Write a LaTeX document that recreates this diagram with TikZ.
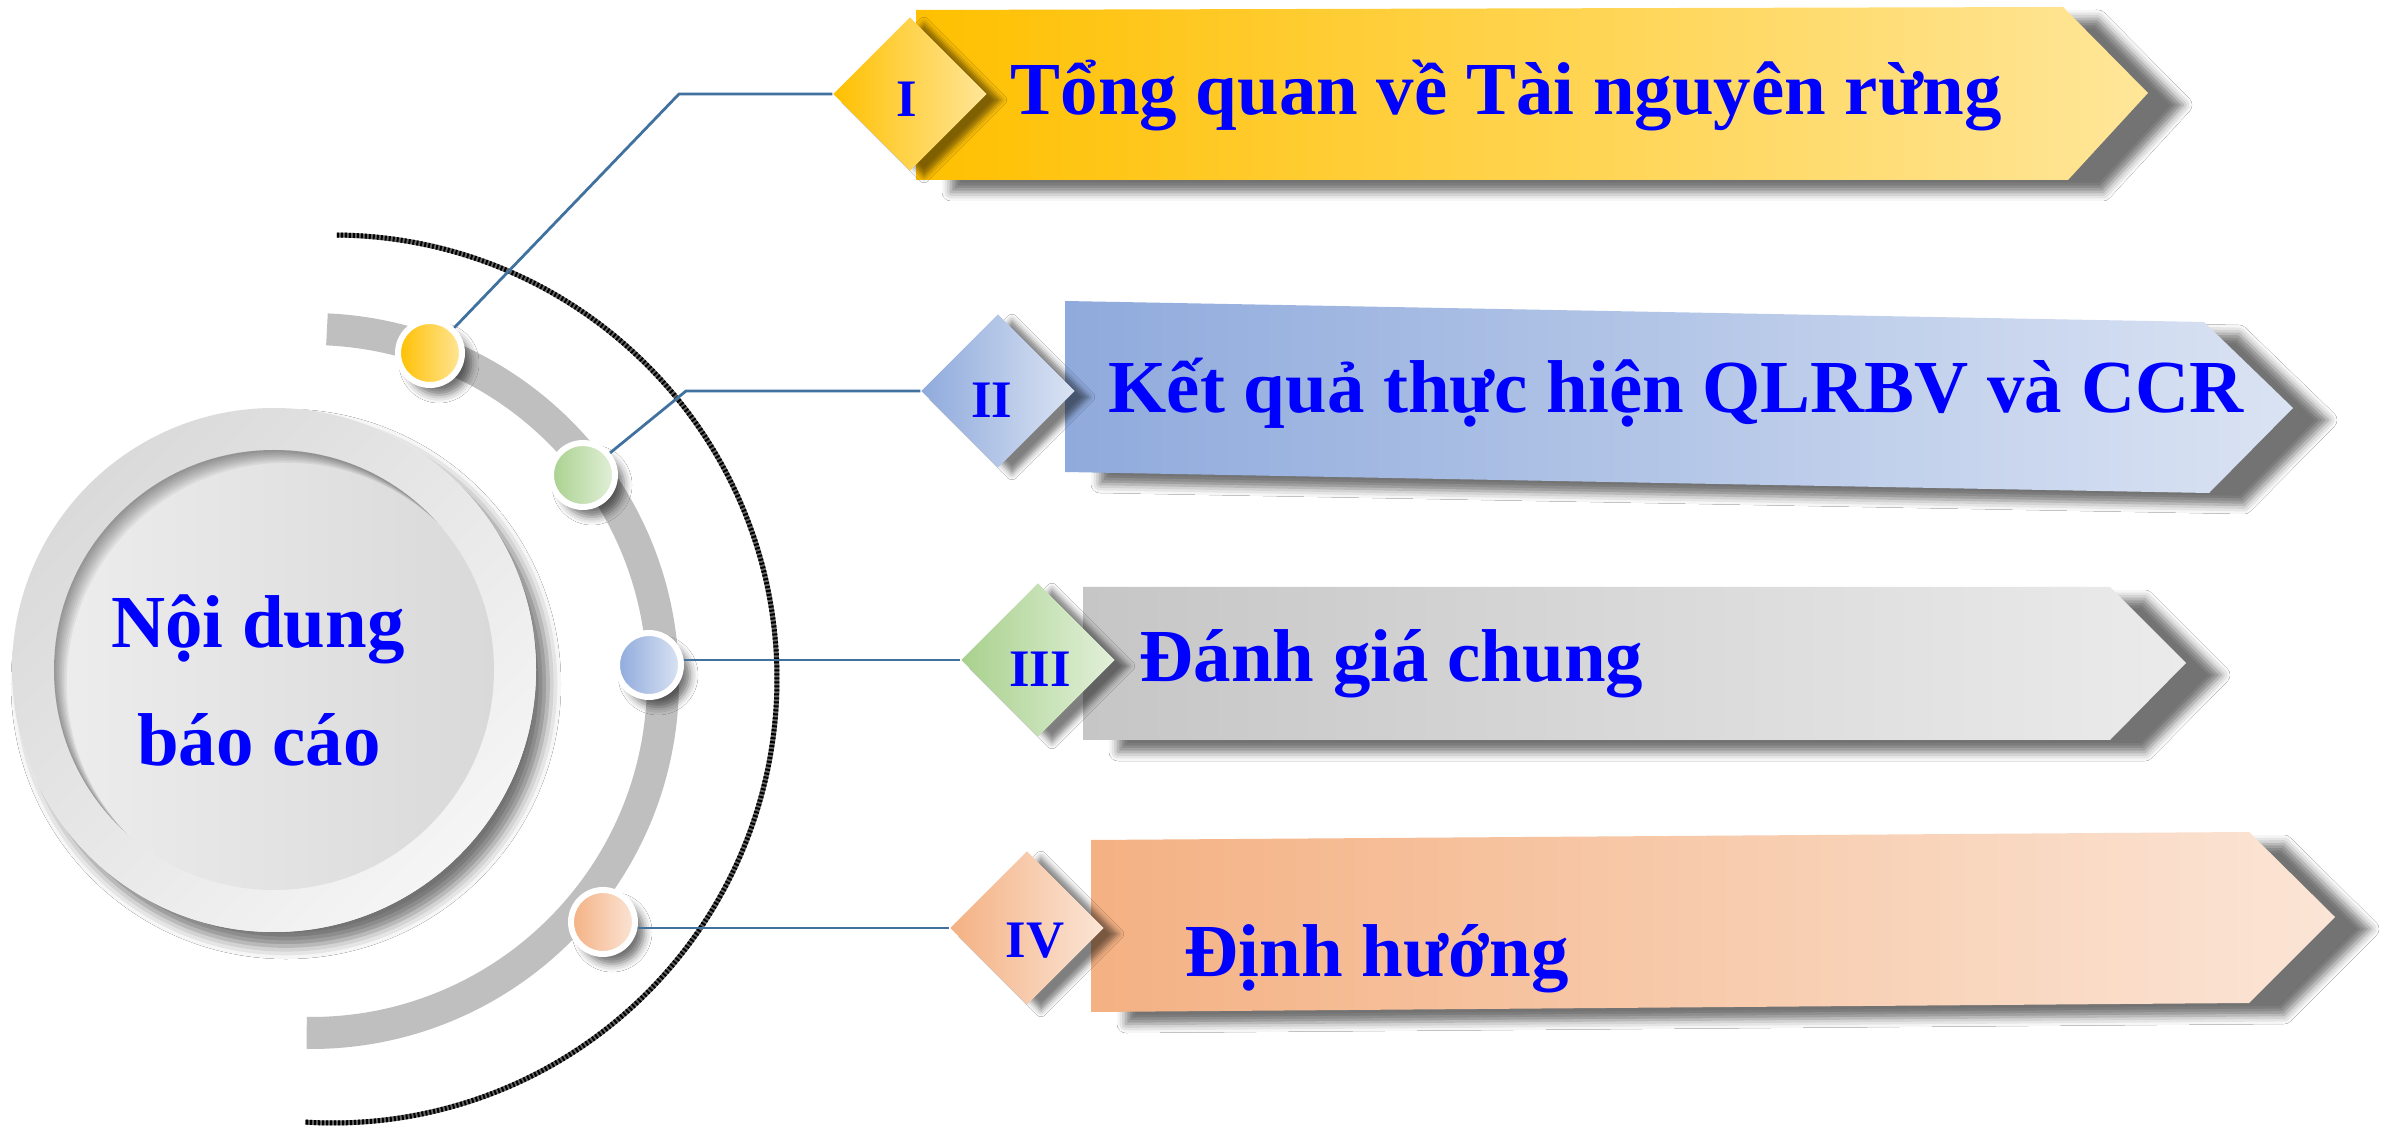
\documentclass[tikz,border=0pt]{standalone}
\usepackage{fontspec}
\setmainfont{Liberation Serif}
\usetikzlibrary{shapes.geometric,shadows.blur}
\definecolor{goldA}{HTML}{FFC000}
\definecolor{goldB}{HTML}{FFE699}
\definecolor{blueA}{HTML}{8FAADC}
\definecolor{blueB}{HTML}{DAE3F3}
\definecolor{grayA}{HTML}{C6C6C6}
\definecolor{grayB}{HTML}{EBEBEB}
\definecolor{orgA}{HTML}{F4B183}
\definecolor{orgB}{HTML}{FBE5D6}
\definecolor{grnA}{HTML}{A9D18E}
\definecolor{grnB}{HTML}{E2F0D9}
\definecolor{connblue}{HTML}{41729F}
\definecolor{arcgray}{HTML}{BFBFBF}
\definecolor{txtblue}{HTML}{0000FF}
\definecolor{ringA}{HTML}{DADADA}
\definecolor{ringB}{HTML}{F5F5F5}
\definecolor{coreA}{HTML}{EDEDED}
\definecolor{coreB}{HTML}{D9D9D9}
\tikzset{
  banner/.style={blur shadow={shadow xshift=3.5mm, shadow yshift=-1.2mm, shadow blur radius=0.9mm, shadow opacity=55}},
  gem/.style={diamond, shape aspect=1, minimum width=15.4mm, minimum height=15.4mm, inner sep=0pt,
    blur shadow={shadow xshift=1.4mm, shadow yshift=-0.6mm, shadow blur radius=0.6mm, shadow opacity=50}},
  ball/.style={circle, minimum size=6.4mm, inner sep=0pt, draw=white, line width=0.6mm,
    blur shadow={shadow xshift=0.9mm, shadow yshift=-1mm, shadow blur radius=0.8mm, shadow opacity=55}},
  connline/.style={draw=connblue, line width=0.28mm},
  bantext/.style={font=\fontsize{21.3}{26}\selectfont\bfseries, text=txtblue, inner sep=0pt, anchor=base west},
  circtext/.style={font=\fontsize{21.3}{26}\selectfont\bfseries, text=txtblue, inner sep=0pt, anchor=base},
  numeral/.style={font=\fontsize{15}{18}\selectfont\bfseries, text=txtblue, inner sep=0pt, anchor=base},
}
\begin{document}
\begin{tikzpicture}[x=0.1mm, y=0.1mm]
\useasboundingbox (0,-1131) rectangle (2381,0);
\fill[white] (0,-1131) rectangle (2381,0);

% outer dotted arc
\draw[black!60, line width=0.5mm] (333,-679) ++(89.5:444) arc[start angle=89.5, end angle=-93.6, radius=444];
\draw[black, line width=0.5mm, dash pattern=on 0.2mm off 0.2mm] (333,-679) ++(89.5:444) arc[start angle=89.5, end angle=-93.6, radius=444];

% big circle
\fill[white, blur shadow={shadow xshift=1.2mm, shadow yshift=-1.4mm, shadow blur radius=1.3mm, shadow opacity=55}] (274,-670) circle[radius=262];
\shade[top color=ringA, bottom color=ringB, shading angle=45] (274,-670) circle[radius=262];
\shade[left color=coreA, right color=coreB] (274,-670) circle[radius=220];
\begin{scope}
  \clip (274,-670) circle[radius=220];
  \foreach \k in {2,4,...,16} {
    \fill[black, opacity=0.05, even odd rule] (274,-670) circle[radius=260] ({274+\k*0.8},{-670-\k*0.8}) circle[radius=220];
  }
\end{scope}
\node[circtext] (m1) at (258,-648) {Nội dung};
\node[circtext] (m2) at (259,-765) {báo cáo};

% thick gray arc
\draw[arcgray, line width=3.2mm] (311,-681) ++(87.4:352) arc[start angle=87.4, end angle=-90.7, radius=352];

% banners
\path[banner, left color=goldA, right color=goldB] (916,-10) -- (2063,-7) -- (2148,-93) -- (2068,-180) -- (916,-180) -- cycle;
\path[banner, left color=blueA, right color=blueB] (1065,-301) -- (2204,-322) -- (2293,-408) -- (2209,-493) -- (1065,-472) -- cycle;
\path[banner, left color=grayA, right color=grayB] (1083,-587) -- (2110,-587) -- (2186,-663) -- (2110,-740) -- (1083,-740) -- cycle;
\path[banner, left color=orgA, right color=orgB] (1091,-840) -- (2249,-832) -- (2335,-917) -- (2249,-1003) -- (1091,-1012) -- cycle;

% diamonds
\node[gem, left color=goldA, right color=goldB] (d1) at (910,-94) {};
\node[gem, left color=blueA, right color=blueB] (d2) at (998,-391) {};
\node[gem, left color=grnA, right color=grnB] (d3) at (1038,-660) {};
\node[gem, left color=orgA, right color=orgB] (d4) at (1027,-928) {};

\node[numeral] (n1) at (907,-117) {I};
\node[numeral] (n2) at (992,-418) {II};
\node[numeral] (n3) at (1040,-687) {III};
\node[numeral] (n4) at (1035,-958) {IV};

\node[bantext] (t1) at (1010,-115) {Tổng quan về Tài nguyên rừng};
\node[bantext] (t2) at (1108,-413) {Kết quả thực hiện QLRBV và CCR};
\node[bantext] (t3) at (1139,-682) {Đánh giá chung};
\node[bantext] (t4) at (1184,-977) {Định hướng};

% bullets
\node[ball, left color=goldA, right color=goldB] (b1) at (430,-353) {};
\node[ball, left color=grnA, right color=grnB] (b2) at (583,-475) {};
\node[ball, left color=blueA, right color=blueB] (b3) at (649,-665) {};
\node[ball, left color=orgA, right color=orgB] (b4) at (603,-922) {};

% connectors
\coordinate (k1) at (679,-94);
\coordinate (k2) at (686,-391);
\draw[connline] (b1) -- (k1) -- (d1.west);
\draw[connline] (b2) -- (k2) -- (d2.west);
\draw[connline] (b3.east |- d3.west) -- (d3.west);
\draw[connline] (b4.east |- d4.west) -- (d4.west);
\end{tikzpicture}
\end{document}
